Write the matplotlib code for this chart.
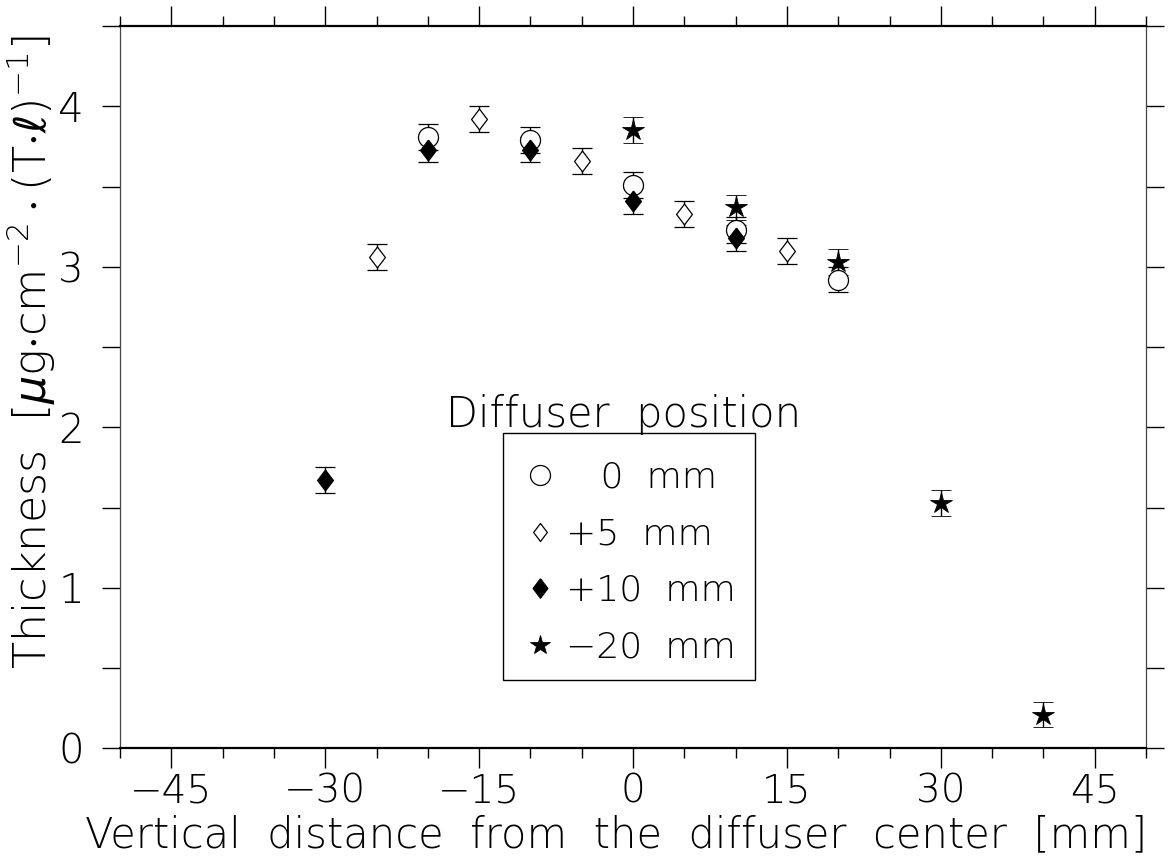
import matplotlib
matplotlib.use("Agg")
import matplotlib.pyplot as plt
from matplotlib.lines import Line2D
from matplotlib.patches import Rectangle
from matplotlib.ticker import MultipleLocator, FixedLocator

plt.rcParams['font.family'] = ['DejaVu Sans']
plt.rcParams['font.weight'] = 'light'
plt.rcParams['mathtext.fontset'] = 'dejavusans'

# ---------------- data ----------------
x_0mm = [-20, -10, 0, 10, 20]
y_0mm = [3.81, 3.79, 3.51, 3.23, 2.92]
e_0mm = [0.08, 0.08, 0.08, 0.08, 0.08]

x_5mm = [-25, -15, -5, 5, 15]
y_5mm = [3.06, 3.92, 3.66, 3.33, 3.10]
e_5mm = [0.08, 0.08, 0.08, 0.08, 0.08]

x_10mm = [-30, -20, -10, 0, 10]
y_10mm = [1.67, 3.73, 3.73, 3.41, 3.18]
e_10mm = [0.08, 0.08, 0.08, 0.08, 0.08]

x_m20mm = [0, 10, 20, 30, 40]
y_m20mm = [3.85, 3.37, 3.03, 1.53, 0.21]
e_m20mm = [0.08, 0.08, 0.08, 0.08, 0.08]

labels = ['   0  mm', '+5  mm', '+10  mm', '\u221220  mm']
x_major = [-45, -30, -15, 0, 15, 30, 45]
y_labeled = [0, 1, 2, 3, 4]

W, H = 1171, 865
fig = plt.figure(figsize=(W / 100, H / 100), dpi=100)
L, R, B, T = 120, 1146, 748.3, 26.0
ax = fig.add_axes([L / W, 1 - B / H, (R - L) / W, (B - T) / H])

ax.set_xlim(-50, 50)
ax.set_ylim(0, 4.5)

diamond = [(0, 1), (0.76, 0), (0, -1), (-0.76, 0), (0, 1)]

common = dict(linestyle='none', ecolor='black', elinewidth=1.0,
              capsize=7.2, capthick=1.0)
ax.errorbar(x_0mm, y_0mm, yerr=e_0mm, marker='o', ms=14.4, mfc='white',
            mec='black', mew=0.9, **common)
ax.errorbar(x_5mm, y_5mm, yerr=e_5mm, marker=diamond, ms=15, mfc='white',
            mec='black', mew=0.9, **common)
ax.errorbar(x_10mm, y_10mm, yerr=e_10mm, marker=diamond, ms=15, mfc='black',
            mec='black', mew=0.9, **common)
ax.errorbar(x_m20mm, y_m20mm, yerr=e_m20mm, marker='*', ms=16, mfc='black',
            mec='black', mew=0.6, **common)

# ticks
ax.xaxis.set_major_locator(FixedLocator(x_major))
ax.xaxis.set_minor_locator(MultipleLocator(5))
ax.yaxis.set_major_locator(FixedLocator(y_labeled))
ax.yaxis.set_minor_locator(MultipleLocator(0.5))
ax.tick_params(axis='x', which='both', direction='out', top=True, bottom=True,
               labeltop=False, labelsize=28, pad=3, width=1.0)
ax.tick_params(axis='x', which='major', length=14.4)
ax.tick_params(axis='x', which='minor', length=7.2)
ax.tick_params(axis='y', which='both', direction='out', left=True, right=True,
               labelright=False, labelsize=29, pad=13, length=13, width=1.0)
for s in ['top', 'bottom']:
    ax.spines[s].set_linewidth(1.6)
for s in ['left', 'right']:
    ax.spines[s].set_linewidth(0.9)
    ax.spines[s].set_color('#444444')

# axis labels
fig.text(616 / W, 1 - 847 / H,
         'Vertical  distance  from  the  diffuser  center  [mm]',
         ha='center', va='baseline', fontsize=30)
fig.text(47 / W, 1 - 352 / H,
         r'Thickness  $\left[\mu\right.$g$\cdot$cm$^{-2}\cdot$(T$\cdot\ell)^{-1}\left.\right]$',
         rotation=90, rotation_mode='anchor', ha='center', va='baseline',
         fontsize=32)

# legend
handles = [
    Line2D([], [], ls='none', marker='o', ms=14.4, mfc='white', mec='black', mew=0.9),
    Line2D([], [], ls='none', marker=diamond, ms=13, mfc='white', mec='black', mew=0.9),
    Line2D([], [], ls='none', marker=diamond, ms=14, mfc='black', mec='black', mew=0.9),
    Line2D([], [], ls='none', marker='*', ms=15, mfc='black', mec='black', mew=0.6),
]
leg = ax.legend(handles, labels, frameon=False, loc='upper left',
                bbox_to_anchor=(523 / W, 1 - 461 / H), bbox_transform=fig.transFigure,
                borderpad=0, borderaxespad=0, handlelength=0.95, handletextpad=0.25,
                labelspacing=0.62, fontsize=26)
fig.add_artist(Rectangle((503 / W, 1 - 680 / H), 252 / W, 247 / H,
                         transform=fig.transFigure, fill=False, lw=1.0, ec='black'))
fig.text(624 / W, 1 - 426.7 / H, 'Diffuser  position', ha='center', va='baseline',
         fontsize=30)

fig.savefig('out.png', dpi=100)
